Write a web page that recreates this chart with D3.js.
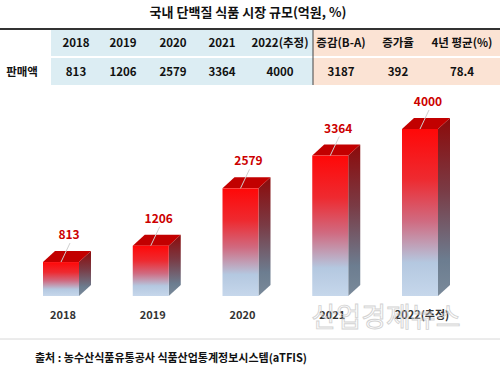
<!DOCTYPE html>
<html>
<head>
<meta charset="utf-8">
<script src="https://cdn.jsdelivr.net/npm/d3@7"></script>
<style>
  body { margin: 0; background: #fff; }
  svg { display: block; font-family: "Noto Sans CJK KR", "Noto Sans", sans-serif; }
</style>
</head>
<body>
<div id="chart"></div>
<script>
// 데이터
const years = ["2018", "2019", "2020", "2021", "2022(추정)"];
const sales = [813, 1206, 2579, 3364, 4000];
const extraHeads = ["증감(B-A)", "증가율", "4년 평균(%)"];
const extraValues = [3187, 392, 78.4];
const rowLabel = "판매액";

const W = 500, H = 377;
const svg = d3.select("#chart").append("svg")
    .attr("width", W)
    .attr("height", H);

// 그라데이션 정의
const defs = svg.append("defs");
const front = defs.append("linearGradient")
    .attr("id", "front").attr("x1", 0).attr("y1", 0).attr("x2", 0).attr("y2", 1);
[[0, "#ff0808"], [0.3, "#ee2a30"], [0.55, "#d06a80"], [0.8, "#b4c8e0"], [1, "#c6d7eb"]]
    .forEach(s => front.append("stop").attr("offset", s[0]).attr("stop-color", s[1]));
const side = defs.append("linearGradient")
    .attr("id", "side").attr("x1", 0).attr("y1", 0).attr("x2", 0).attr("y2", 1);
[[0, "#8c0a0a"], [0.4, "#7a3a44"], [0.8, "#6c7d90"], [1, "#7a8a9a"]]
    .forEach(s => side.append("stop").attr("offset", s[0]).attr("stop-color", s[1]));

// 제목
svg.append("text")
    .attr("x", 248).attr("y", 17)
    .attr("text-anchor", "middle")
    .attr("font-size", 13).attr("font-weight", "bold")
    .attr("fill", "#111")
    .text("국내 단백질 식품 시장 규모(억원, %)");

// 표
const heads = years.concat(extraHeads);
const vals = sales.concat(extraValues);
const colX = [76, 123, 173, 222, 280, 341, 398, 462];
const row1 = { y: 30, h: 26 }, row2 = { y: 58, h: 27 };

[row1, row2].forEach(r => {
    svg.append("rect").attr("x", 51).attr("y", r.y).attr("width", 262).attr("height", r.h).attr("fill", "#dcedf3");
    svg.append("rect").attr("x", 313).attr("y", r.y).attr("width", 187).attr("height", r.h).attr("fill", "#fbe3d4");
});
svg.append("line").attr("x1", 0).attr("x2", W).attr("y1", 29).attr("y2", 29)
    .attr("stroke", "#333").attr("stroke-width", 2);
svg.append("line").attr("x1", 313).attr("x2", 313).attr("y1", 30).attr("y2", 85)
    .attr("stroke", "#444").attr("stroke-width", 1);

svg.selectAll(".head").data(heads).enter().append("text")
    .attr("class", "head")
    .attr("x", (d, i) => colX[i]).attr("y", 47)
    .attr("text-anchor", "middle")
    .attr("font-size", 11.5).attr("font-weight", "bold").attr("fill", "#111")
    .text(d => d);
svg.selectAll(".val").data(vals).enter().append("text")
    .attr("class", "val")
    .attr("x", (d, i) => colX[i]).attr("y", 76)
    .attr("text-anchor", "middle")
    .attr("font-size", 11.5).attr("font-weight", "bold").attr("fill", "#111")
    .text(d => d);
svg.append("text").attr("x", 22).attr("y", 76).attr("text-anchor", "middle")
    .attr("font-size", 11.5).attr("font-weight", "bold").attr("fill", "#111")
    .text(rowLabel);

// 막대 (3D)
const x = d3.scalePoint().domain(years).range([61, 420]);
const y = d3.scaleLinear().domain([0, 4000]).range([296, 129]);
const bw = 36, dx = 12, dy = 11;

const bars = svg.selectAll(".bar").data(years.map((yr, i) => ({ yr, v: sales[i] })))
    .enter().append("g").attr("class", "bar");

bars.append("path") // 오른쪽 면
    .attr("d", d => {
        const x1 = x(d.yr) + bw / 2, t = y(d.v), b = y(0);
        return `M${x1},${t}L${x1 + dx},${t - dy}L${x1 + dx},${b - dy}L${x1},${b}Z`;
    })
    .attr("fill", "url(#side)");
bars.append("path") // 윗면
    .attr("d", d => {
        const x0 = x(d.yr) - bw / 2, t = y(d.v);
        return `M${x0},${t}L${x0 + dx},${t - dy}L${x0 + bw + dx},${t - dy}L${x0 + bw},${t}Z`;
    })
    .attr("fill", "#c20000");
bars.append("rect") // 앞면
    .attr("x", d => x(d.yr) - bw / 2)
    .attr("y", d => y(d.v))
    .attr("width", bw)
    .attr("height", d => y(0) - y(d.v))
    .attr("fill", "url(#front)");

// 값 라벨과 지시선
bars.append("line")
    .attr("x1", d => x(d.yr) + 9).attr("y1", d => y(d.v) - 19)
    .attr("x2", d => x(d.yr)).attr("y2", d => y(d.v))
    .attr("stroke", "#d0d0d0").attr("stroke-width", 1);
bars.append("text")
    .attr("x", d => x(d.yr) + 8)
    .attr("y", d => y(d.v) - 23)
    .attr("text-anchor", "middle")
    .attr("font-size", 12).attr("font-weight", "bold")
    .attr("fill", "#cc0000")
    .attr("stroke", "#fff").attr("stroke-width", 2.5)
    .attr("paint-order", "stroke")
    .text(d => d.v);

// x축 라벨
svg.selectAll(".xl").data(years).enter().append("text")
    .attr("class", "xl")
    .attr("x", d => x(d) + 2).attr("y", 319)
    .attr("text-anchor", "middle")
    .attr("font-size", 11).attr("font-weight", "bold").attr("fill", "#333")
    .text(d => d);

// 워터마크
svg.append("text")
    .attr("x", 386).attr("y", 327)
    .attr("text-anchor", "middle")
    .attr("font-size", 27)
    .attr("fill", "none").attr("stroke", "#c8c8c8").attr("stroke-width", 0.9)
    .attr("opacity", 0.8)
    .text("산업경제뉴스");

// 하단 선과 출처
svg.append("line").attr("x1", 0).attr("x2", W).attr("y1", 339).attr("y2", 339)
    .attr("stroke", "#d8d8d8").attr("stroke-width", 1);
svg.append("text")
    .attr("x", 35).attr("y", 362)
    .attr("font-size", 11).attr("font-weight", "bold").attr("fill", "#111")
    .text("출처 : 농수산식품유통공사 식품산업통계정보시스템(aTFIS)");
</script>
</body>
</html>
